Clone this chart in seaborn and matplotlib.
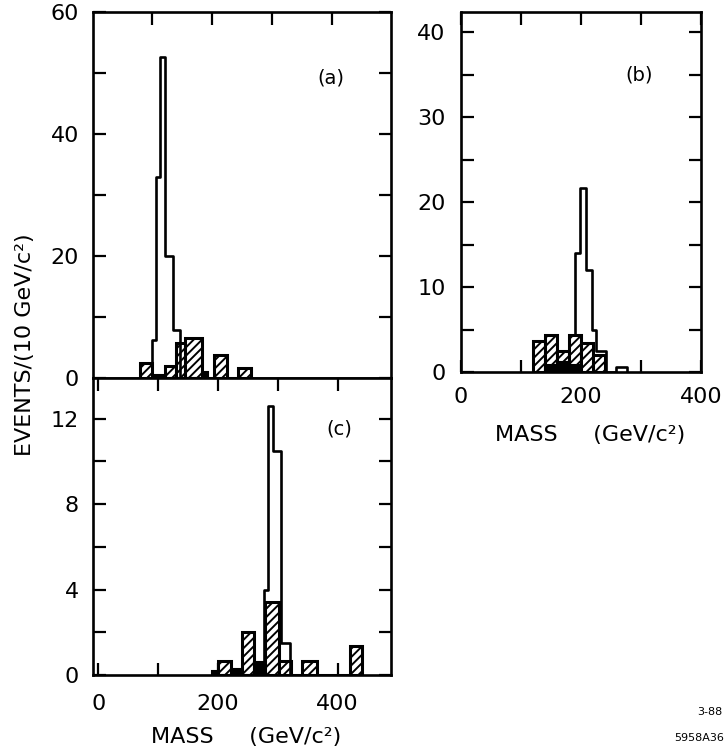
import numpy as np
import pandas as pd
import seaborn as sns
import matplotlib
matplotlib.use("Agg")
import matplotlib.pyplot as plt
from matplotlib.ticker import FixedLocator, FuncFormatter

# ---------------- data ----------------
# panel (a)
open_a_edges = [101, 107, 113, 122, 136, 147]
open_a_counts = [6.3, 33, 52.7, 20, 7.9]
hatch_a_edges = [80, 101, 122, 140, 156, 183, 194, 203, 225, 243, 265]
hatch_a_counts = [2.5, 0, 2.0, 5.7, 6.6, 0, 0, 3.8, 0, 1.7]
solid_a_edges = [101, 122, 183, 194]
solid_a_counts = [0.5, 0, 1.0]

# panel (b)
open_b_edges = [180, 190, 198, 208, 219, 225, 242, 259, 277]
open_b_counts = [4.3, 14, 21.7, 12, 4.9, 2.5, 0, 0.6]
hatch_b_edges = [120, 140, 160, 180, 200, 220, 240]
hatch_b_counts = [3.6, 4.3, 2.5, 4.3, 3.4, 2.0]
solid_b_edges = [140, 160, 180, 200]
solid_b_counts = [0.8, 1.2, 0.8]

# panel (c)
open_c_edges = [277, 284, 292, 305, 320]
open_c_counts = [4.0, 12.6, 10.5, 1.5]
hatch_c_edges = [200, 222, 240, 260, 278, 302, 322, 340, 365, 420, 441]
hatch_c_counts = [0.67, 0, 2.0, 0, 3.4, 0.67, 0, 0.67, 0, 1.35]
solid_c_edges = [190, 200, 222, 240, 260, 278]
solid_c_counts = [0.2, 0, 0.3, 0, 0.6]

panel_labels = ["(a)", "(b)", "(c)"]
ylabel_text = "EVENTS/(10 GeV/c²)"
xlabel_text = "MASS     (GeV/c²)"

# ---------------- style ----------------
sns.set_style("ticks")
plt.rcParams["font.family"] = ["DejaVu Sans"]
plt.rcParams["text.color"] = "black"
plt.rcParams["axes.edgecolor"] = "black"
plt.rcParams["hatch.linewidth"] = 1.4
plt.rcParams["hatch.color"] = "black"

W, H = 726, 752
fig = plt.figure(figsize=(W / 100, H / 100), dpi=100)


def px_axes(left, top, right, bottom):
    return fig.add_axes([left / W, 1 - bottom / H, (right - left) / W, (bottom - top) / H])


ax_a = px_axes(93, 12, 391, 378)
ax_c = px_axes(93, 378, 391, 675)
ax_b = px_axes(461, 12, 701, 372)


def draw(ax, edges, counts, kind):
    edges = [float(e) for e in edges]
    counts = list(counts)
    if kind == "open":
        # zero-height bins at both ends so the outline closes to the baseline
        edges = [edges[0] - 0.01] + edges + [edges[-1] + 0.01]
        counts = [0.0] + counts + [0.0]
    centers = [(a + b) / 2 for a, b in zip(edges[:-1], edges[1:])]
    df = pd.DataFrame({"mass": centers, "n": counts})
    if kind == "hatch":
        sns.histplot(data=df, x="mass", weights="n", bins=edges, element="bars",
                     fill=True, color="white", edgecolor="black", linewidth=2.2,
                     alpha=1, hatch="////", ax=ax, zorder=2)
    elif kind == "solid":
        sns.histplot(data=df, x="mass", weights="n", bins=edges, element="bars",
                     fill=True, color="black", edgecolor="black", linewidth=1.5,
                     alpha=1, ax=ax, zorder=2.5)
    else:
        sns.histplot(data=df, x="mass", weights="n", bins=edges, element="step",
                     fill=False, color="black", linewidth=1.9, ax=ax, zorder=3)


draw(ax_a, hatch_a_edges, hatch_a_counts, "hatch")
draw(ax_a, solid_a_edges, solid_a_counts, "solid")
draw(ax_a, open_a_edges, open_a_counts, "open")
draw(ax_b, hatch_b_edges, hatch_b_counts, "hatch")
draw(ax_b, solid_b_edges, solid_b_counts, "solid")
draw(ax_b, open_b_edges, open_b_counts, "open")
draw(ax_c, hatch_c_edges, hatch_c_counts, "hatch")
draw(ax_c, solid_c_edges, solid_c_counts, "solid")
draw(ax_c, open_c_edges, open_c_counts, "open")


def every(step):
    return FuncFormatter(lambda v, p: f"{v:g}" if abs(v / step - round(v / step)) < 1e-6 else "")


for ax in (ax_a, ax_b, ax_c):
    ax.set_xlabel("")
    ax.set_ylabel("")
    for s in ax.spines.values():
        s.set_linewidth(1.9)
        s.set_visible(True)
        s.set_color("black")
        s.set_zorder(4)
    ax.tick_params(which="both", direction="in", length=9, width=1.6,
                   top=True, right=True, labelsize=16, colors="black")

# (a)
ax_a.set_xlim(2, 499)
ax_a.set_ylim(0, 60)
ax_a.yaxis.set_major_locator(FixedLocator(np.arange(0, 61, 10)))
ax_a.yaxis.set_major_formatter(every(20))
ax_a.xaxis.set_major_locator(FixedLocator([100, 200, 300, 400]))
ax_a.tick_params(axis="x", bottom=False, labelbottom=False)
ax_a.tick_params(axis="y", pad=10)

# (c)
ax_c.set_xlim(-9, 489)
ax_c.set_ylim(0, 13.9)
ax_c.yaxis.set_major_locator(FixedLocator(np.arange(0, 13, 2)))
ax_c.yaxis.set_major_formatter(every(4))
ax_c.xaxis.set_major_locator(FixedLocator([0, 100, 200, 300, 400]))
ax_c.xaxis.set_major_formatter(every(200))
ax_c.tick_params(axis="x", pad=14)
ax_c.tick_params(axis="y", pad=10)

# (b)
ax_b.set_xlim(0, 400)
ax_b.set_ylim(0, 42.4)
ax_b.yaxis.set_major_locator(FixedLocator(np.arange(0, 41, 5)))
ax_b.yaxis.set_major_formatter(every(10))
ax_b.xaxis.set_major_locator(FixedLocator([0, 100, 200, 300, 400]))
ax_b.xaxis.set_major_formatter(every(200))
ax_b.tick_params(axis="x", pad=11)
ax_b.tick_params(axis="y", pad=11)

# panel labels
ax_a.text(398, 49.2, panel_labels[0], fontsize=14, ha="center", va="center")
ax_b.text(297, 35, panel_labels[1], fontsize=14, ha="center", va="center")
ax_c.text(402, 11.5, panel_labels[2], fontsize=14, ha="center", va="center")

# axis titles
fig.text(25 / W, 1 - 345 / H, ylabel_text, rotation=90, fontsize=16, ha="center", va="center")
fig.text(246 / W, 1 - 737 / H, xlabel_text, fontsize=16, ha="center", va="center")
fig.text(590 / W, 1 - 435 / H, xlabel_text, fontsize=16, ha="center", va="center")

# figure codes
fig.text(722 / W, 1 - 712 / H, "3-88", fontsize=8, ha="right", va="center")
fig.text(724 / W, 1 - 738 / H, "5958A36", fontsize=8, ha="right", va="center")

fig.savefig("out.png", dpi=100)
